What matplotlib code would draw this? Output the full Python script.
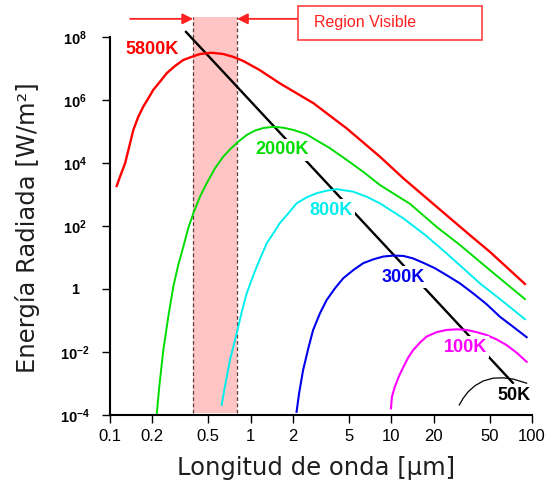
import matplotlib
matplotlib.use('Agg')
import matplotlib.pyplot as plt
from matplotlib.patches import Rectangle

plt.rcParams['mathtext.fontset'] = 'custom'
plt.rcParams['mathtext.rm'] = 'Liberation Sans:bold'
plt.rcParams['mathtext.bf'] = 'Liberation Sans:bold'
plt.rcParams['mathtext.it'] = 'Liberation Sans:bold'

# longitud de onda [um] y log10 de la energia
red_x = [0.1116, 0.1178, 0.128, 0.137, 0.1465, 0.159, 0.1724, 0.187, 0.203, 0.2266, 0.253,
         0.2897, 0.332, 0.381, 0.436, 0.528, 0.638, 0.752, 0.885, 1.16, 1.61, 2.79,
         4.81, 8.30, 12.2, 21.0, 36.2, 50.2, 89.1]
red_log = [3.27, 3.565, 3.99, 4.52, 5.05, 5.47, 5.79, 6.05, 6.32, 6.58, 6.85,
           7.08, 7.27, 7.37, 7.46, 7.50, 7.46, 7.37, 7.24, 6.95, 6.53, 5.90,
           5.10, 4.20, 3.51, 2.61, 1.71, 1.18, 0.16]

green_x = [0.2148, 0.224, 0.2393, 0.2596, 0.2818, 0.3055, 0.332, 0.360, 0.391, 0.436,
           0.487, 0.557, 0.638, 0.713, 0.817, 0.937, 1.074, 1.23, 1.45, 1.71, 2.01,
           2.50, 2.79, 3.66, 4.81, 6.31, 8.30, 13.6, 21.0, 30.7, 50.2, 89.1]
green_log = [-4.0, -3.10, -1.94, -0.88, 0.07, 0.76, 1.34, 1.93, 2.40, 2.93,
             3.36, 3.83, 4.20, 4.43, 4.68, 4.89, 5.03, 5.11, 5.15, 5.12, 5.05,
             4.91, 4.78, 4.47, 4.10, 3.72, 3.30, 2.70, 1.97, 1.40, 0.60, -0.32]

cyan_x = [0.622, 0.656, 0.713, 0.764, 0.816, 0.871, 0.937, 1.016, 1.104, 1.197, 1.30,
          1.45, 1.61, 1.85, 2.12, 2.50, 2.94, 3.47, 4.08, 5.36, 6.67, 8.30, 12.2,
          17.8, 24.7, 32.4, 42.6, 62.4, 89.1]
cyan_log = [-3.68, -3.10, -2.25, -1.72, -1.20, -0.67, -0.14, 0.29, 0.71, 1.08, 1.45,
            1.77, 2.09, 2.40, 2.72, 2.91, 3.04, 3.12, 3.17, 3.09, 2.93, 2.72, 2.24,
            1.68, 1.13, 0.66, 0.18, -0.40, -0.96]

blue_x = [2.12, 2.21, 2.36, 2.57, 2.78, 3.11, 3.47, 3.97, 4.55, 5.36, 6.31, 7.43, 8.75,
          10.3, 12.2, 14.3, 16.9, 20.4, 24.7, 30.7, 38.2, 47.5, 59.1, 73.5, 91.6]
blue_log = [-3.90, -3.31, -2.57, -1.88, -1.30, -0.77, -0.35, 0.02, 0.34, 0.60, 0.82, 0.94, 1.03,
            1.06, 1.05, 0.97, 0.83, 0.66, 0.44, 0.18, -0.14, -0.48, -0.88, -1.20, -1.53]

mag_x = [9.94, 10.1, 10.6, 11.3, 12.2, 13.2, 14.3, 16.0, 17.8, 21.0, 24.7, 29.1, 34.3,
         40.4, 47.5, 56.0, 65.9, 77.6, 91.6]
mag_log = [-3.79, -3.42, -3.10, -2.78, -2.47, -2.17, -1.94, -1.70, -1.51, -1.37, -1.30, -1.28, -1.30,
           -1.37, -1.46, -1.60, -1.78, -2.02, -2.31]

blk_x = [30.4, 32.4, 35.2, 39.3, 45.0, 53.0, 62.4, 73.5, 91.6]
blk_log = [-3.68, -3.47, -3.26, -3.07, -2.92, -2.83, -2.82, -2.86, -2.99]

wien_x = [0.347, 73.1]
wien_y = [1.45e8, 1.05e-3]

vis_lo = 0.39
vis_hi = 0.80

xticks = [0.1, 0.2, 0.5, 1, 2, 5, 10, 20, 50, 100]
xlabels = ['0.1', '0.2', '0.5', '1', '2', '5', '10', '20', '50', '100']
yticks = [1e-4, 1e-2, 1, 1e2, 1e4, 1e6, 1e8]
ylabels = ['$10^{-4}$', '$10^{-2}$', '1', '$10^{2}$', '$10^{4}$', '$10^{6}$', '$10^{8}$']

fig = plt.figure(figsize=(5.6, 4.93), dpi=100)
ax = fig.add_axes([110/560, 78/493, 422/560, 378/493])

ax.axvspan(vis_lo, vis_hi, ymin=0.005, ymax=1.053, color='#ffc4c4', lw=0, clip_on=False, zorder=0)
for v in [vis_lo, vis_hi]:
    ax.plot([v, v], [0.005, 1.053], color='#5a3a3a', lw=0.9, ls=(0, (3, 2)),
            transform=ax.get_xaxis_transform(), clip_on=False, zorder=1)

ax.plot(wien_x, wien_y, color='black', lw=1.7, clip_on=False, zorder=2)

curves = [(red_x, red_log, '#ff0000', 1.7), (green_x, green_log, '#00dd00', 1.4),
          (cyan_x, cyan_log, '#00eeee', 1.4), (blue_x, blue_log, '#0000ee', 1.5),
          (mag_x, mag_log, '#ff00ff', 1.5), (blk_x, blk_log, 'black', 0.9)]
for cx, cl, col, lw in curves:
    ax.plot(cx, [10 ** v for v in cl], color=col, lw=lw, zorder=2, solid_joinstyle='round')

lab_font = dict(fontsize=13, fontweight='bold', family='Liberation Sans', ha='center', va='center', zorder=4)
box = dict(facecolor='white', edgecolor='none', pad=1.5)
ax.text(0.199, 3.9e7, '5800K', color='#ff0000', **lab_font)
ax.text(1.67, 2.6e4, '2000K', color='#00dd00', bbox=box, **lab_font)
ax.text(3.72, 320, '800K', color='#00eeee', bbox=box, **lab_font)
ax.text(12.1, 2.4, '300K', color='#0000ee', bbox=box, **lab_font)
ax.text(33.4, 0.0144, '100K', color='#ff00ff', bbox=box, **lab_font)
ax.text(74.3, 4.3e-4, '50K', color='black', bbox=box, **lab_font)

ax.set_xscale('log')
ax.set_yscale('log')
ax.set_xlim(0.1, 100)
ax.set_ylim(1e-4, 1e8)
ax.set_xticks(xticks)
ax.set_xticklabels(xlabels, fontsize=12, family='Liberation Sans')
ax.set_yticks(yticks)
ax.set_yticklabels(ylabels, fontsize=10.5, fontweight='bold', family='Liberation Sans', ha='center')
ax.minorticks_off()
ax.tick_params(axis='x', direction='out', length=6, width=1, pad=4)
ax.tick_params(axis='y', direction='out', length=6, width=1, pad=19)
for s in ['top', 'right']:
    ax.spines[s].set_visible(False)
for s in ['left', 'bottom']:
    ax.spines[s].set_linewidth(1.5)

# flechas y recuadro de la region visible
ax.annotate('', xy=(vis_lo, 1.048), xytext=(0.139, 1.048), xycoords=('data', 'axes fraction'),
            arrowprops=dict(arrowstyle='-|>', color='#ff2020', lw=1.3, mutation_scale=16,
                            shrinkA=0, shrinkB=0), annotation_clip=False)
ax.annotate('', xy=(vis_hi, 1.048), xytext=(2.17, 1.048), xycoords=('data', 'axes fraction'),
            arrowprops=dict(arrowstyle='-|>', color='#ff2020', lw=1.3, mutation_scale=16,
                            shrinkA=0, shrinkB=0), annotation_clip=False)
fig.patches.append(Rectangle((298/560, 453/493), 184/560, 34/493, transform=fig.transFigure,
                             facecolor='white', edgecolor='#ff4040', lw=1.2))
fig.text(314/560, 1 - 23/493, 'Region Visible', color='#ff2020', fontsize=11.5,
         family='Liberation Sans', ha='left', va='center')

fig.text(28/560, 1 - 228/493, 'Energía Radiada [W/m²]', rotation=90, fontsize=17.5,
         color='#1e1e1e', ha='center', va='center')
fig.text(316/560, 1 - 468/493, 'Longitud de onda [µm]', fontsize=17.5,
         color='#1e1e1e', ha='center', va='center')

fig.savefig('out.png', dpi=100)
